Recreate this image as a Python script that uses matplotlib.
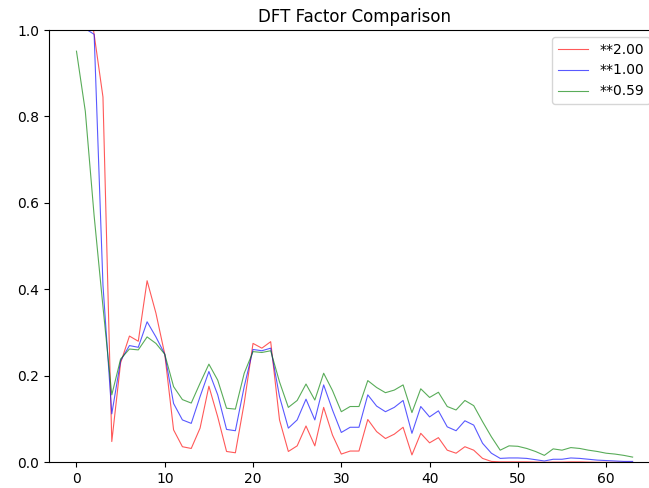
import numpy as np
import matplotlib
matplotlib.use("Agg")
import matplotlib.pyplot as plt

# normalised DFT factor magnitudes for three exponents
k = np.arange(64)

pow_200 = [1.20, 1.12, 0.99, 0.845, 0.048, 0.23, 0.292, 0.28, 0.42, 0.345,
           0.25, 0.075, 0.036, 0.032, 0.079, 0.176, 0.105, 0.025, 0.022, 0.137,
           0.275, 0.264, 0.279, 0.098, 0.025, 0.038, 0.084, 0.038, 0.127, 0.063,
           0.019, 0.026, 0.026, 0.099, 0.071, 0.055, 0.065, 0.081, 0.017, 0.067,
           0.045, 0.057, 0.028, 0.021, 0.036, 0.028, 0.009, 0.002, 0.001, 0.001,
           0.001, 0.001, 0.0005, 0.0, 0.0005, 0.0005, 0.001, 0.001, 0.0005, 0.0,
           0.0, 0.0, 0.0, 0.0]

pow_100 = [1.10, 1.003, 0.99, 0.41, 0.112, 0.235, 0.27, 0.266, 0.325, 0.29,
           0.25, 0.136, 0.098, 0.09, 0.152, 0.21, 0.156, 0.076, 0.073, 0.175,
           0.261, 0.258, 0.264, 0.152, 0.079, 0.098, 0.146, 0.098, 0.179, 0.121,
           0.069, 0.081, 0.081, 0.156, 0.13, 0.117, 0.127, 0.143, 0.067, 0.129,
           0.105, 0.119, 0.082, 0.073, 0.096, 0.086, 0.044, 0.021, 0.009, 0.01,
           0.01, 0.009, 0.006, 0.003, 0.007, 0.007, 0.01, 0.009, 0.007, 0.005,
           0.004, 0.003, 0.002, 0.002]

pow_059 = [0.951, 0.812, 0.57, 0.36, 0.156, 0.239, 0.262, 0.26, 0.29, 0.275,
           0.25, 0.175, 0.145, 0.137, 0.183, 0.227, 0.19, 0.125, 0.123, 0.206,
           0.256, 0.254, 0.258, 0.186, 0.127, 0.143, 0.181, 0.144, 0.206, 0.166,
           0.117, 0.129, 0.129, 0.189, 0.173, 0.161, 0.167, 0.179, 0.115, 0.17,
           0.15, 0.162, 0.129, 0.121, 0.143, 0.131, 0.094, 0.059, 0.028, 0.038,
           0.037, 0.032, 0.025, 0.016, 0.031, 0.028, 0.034, 0.032, 0.028, 0.025,
           0.021, 0.019, 0.016, 0.012]

fig = plt.figure(figsize=(6.49, 4.88), dpi=100)
ax = fig.add_axes([0.075, 0.0527, 0.9426, 0.8858])

ax.plot(k, pow_200, color="red", lw=0.8, alpha=0.65, label="**2.00")
ax.plot(k, pow_100, color="blue", lw=0.8, alpha=0.65, label="**1.00")
ax.plot(k, pow_059, color="green", lw=0.8, alpha=0.65, label="**0.59")

ax.set_ylim(0, 1.0)
ax.set_xlim(-3.15, 66.15)
ax.set_title("DFT Factor Comparison")
ax.legend(loc="upper right", bbox_to_anchor=(0.994, 1.0), handlelength=2.2)

fig.savefig("out.png", dpi=100)
